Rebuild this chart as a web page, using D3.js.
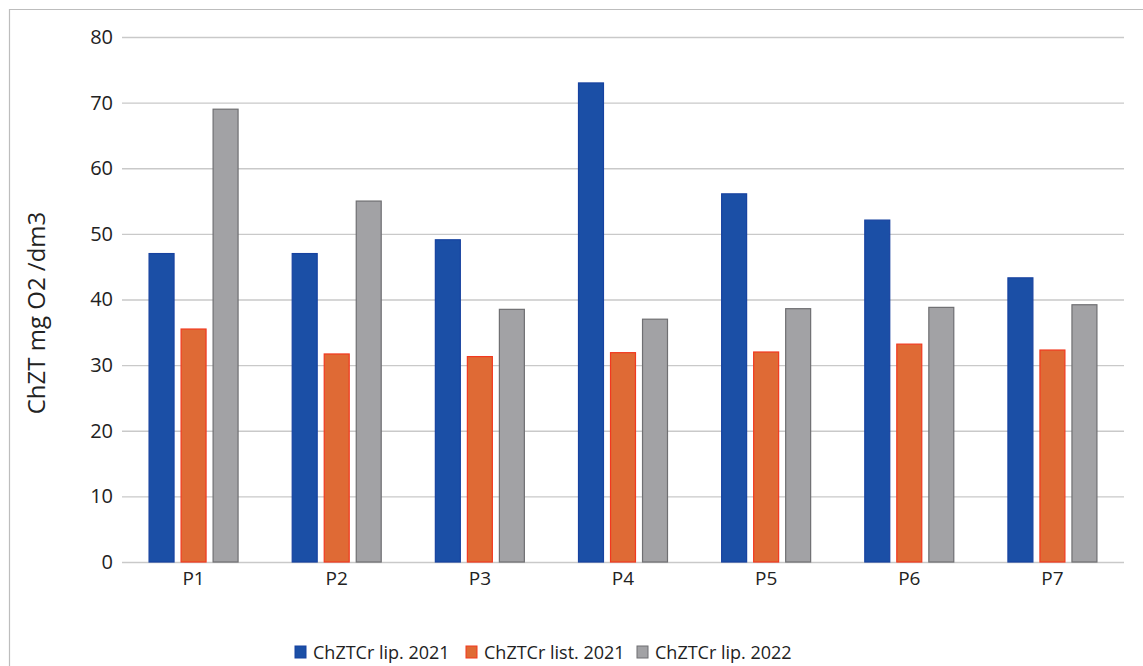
<!DOCTYPE html>
<html>
<head>
<meta charset="utf-8">
<script src="https://cdn.jsdelivr.net/npm/d3@7"></script>
<style>
  body { margin: 0; background: #fff; }
  svg text { font-family: "Open Sans", "Noto Sans", sans-serif; fill: #222; }
</style>
</head>
<body>
<svg id="chart" width="1143" height="666"></svg>
<script>
const categories = ["P1", "P2", "P3", "P4", "P5", "P6", "P7"];
const seriesNames = ["ChZTCr lip. 2021", "ChZTCr list. 2021", "ChZTCr lip. 2022"];
const lip2021 = [47, 47, 49.1, 73, 56.1, 52.1, 43.3];
const list2021 = [35.5, 31.7, 31.3, 31.9, 32, 33.2, 32.3];
const lip2022 = [69, 55, 38.5, 37, 38.6, 38.8, 39.2];
const yTicks = [0, 10, 20, 30, 40, 50, 60, 70, 80];

const fills = ["#1b4fa6", "#df6a35", "#a2a2a5"];
const strokes = ["#1742a0", "#f2391f", "#6f6f72"];

const svg = d3.select("svg#chart");
const margins = { top: 37, right: 19, bottom: 104, left: 122 };
const width = +svg.attr("width");
const height = +svg.attr("height");
const chartWidth = width - margins.left - margins.right;
const chartHeight = height - margins.top - margins.bottom;

// outer frame (scanned page, only left/top visible)
svg.append("path")
  .attr("d", `M9.5,${height} V9.5 H${width}`)
  .attr("fill", "none")
  .attr("stroke", "#bdbdbd")
  .attr("stroke-width", 1.2);

const chartArea = svg.append("g")
  .attr("transform", "translate(" + margins.left + "," + margins.top + ")");

const xScale = d3.scaleBand().domain(categories).range([0, chartWidth]);
const groupW = 89;
const xInner = d3.scaleBand().domain(seriesNames)
  .range([xScale.bandwidth() / 2 - groupW / 2, xScale.bandwidth() / 2 + groupW / 2])
  .paddingInner(0.22);
const yScale = d3.scaleLinear().domain([0, 80]).range([chartHeight, 0]);

// gridlines
const grid = d3.axisLeft(yScale).tickValues(yTicks).tickSize(-chartWidth).tickFormat("");
chartArea.append("g").attr("class", "grid").call(grid)
  .call(g => g.select(".domain").remove())
  .call(g => g.selectAll("line").attr("stroke", "#c9c9c9").attr("stroke-width", 1.3));

// y tick labels
const leftAxis = d3.axisLeft(yScale).tickValues(yTicks).tickSize(0).tickPadding(9);
chartArea.append("g").call(leftAxis)
  .attr("font-size", 20).attr("font-family", "'Open Sans', sans-serif")
  .call(g => g.select(".domain").remove())
  .call(g => g.selectAll("text").attr("fill", "#222"));

// x labels
const bottomAxis = d3.axisBottom(xScale).tickSize(0).tickPadding(10);
chartArea.append("g").attr("transform", "translate(0," + chartHeight + ")").call(bottomAxis)
  .attr("font-size", 19).attr("font-family", "'Open Sans', sans-serif")
  .call(g => g.select(".domain").remove())
  .call(g => g.selectAll("text").attr("fill", "#222"));

// bars
const seriesValues = [lip2021, list2021, lip2022];
seriesValues.forEach((vals, si) => {
  chartArea.append("g").selectAll("rect")
    .data(categories.map((c, i) => ({ cat: c, v: vals[i] })))
    .join("rect")
    .attr("x", d => xScale(d.cat) + xInner(seriesNames[si]))
    .attr("y", d => yScale(d.v))
    .attr("width", xInner.bandwidth())
    .attr("height", d => chartHeight - yScale(d.v))
    .attr("fill", fills[si])
    .attr("stroke", strokes[si])
    .attr("stroke-width", 1.2);
});

// y axis title
svg.append("text")
  .text("ChZT mg O2 /dm3")
  .attr("transform", "translate(45,313) rotate(-90)")
  .attr("text-anchor", "middle")
  .attr("font-size", 24);

// legend
const legendX = [295, 466, 637];
const legend = svg.append("g");
seriesNames.forEach((name, i) => {
  legend.append("rect")
    .attr("x", legendX[i]).attr("y", 646)
    .attr("width", 11).attr("height", 12)
    .attr("fill", fills[i]).attr("stroke", strokes[i]).attr("stroke-width", 1);
  legend.append("text")
    .text(name)
    .attr("x", legendX[i] + 18).attr("y", 658.5)
    .attr("font-size", 18);
});
</script>
</body>
</html>
